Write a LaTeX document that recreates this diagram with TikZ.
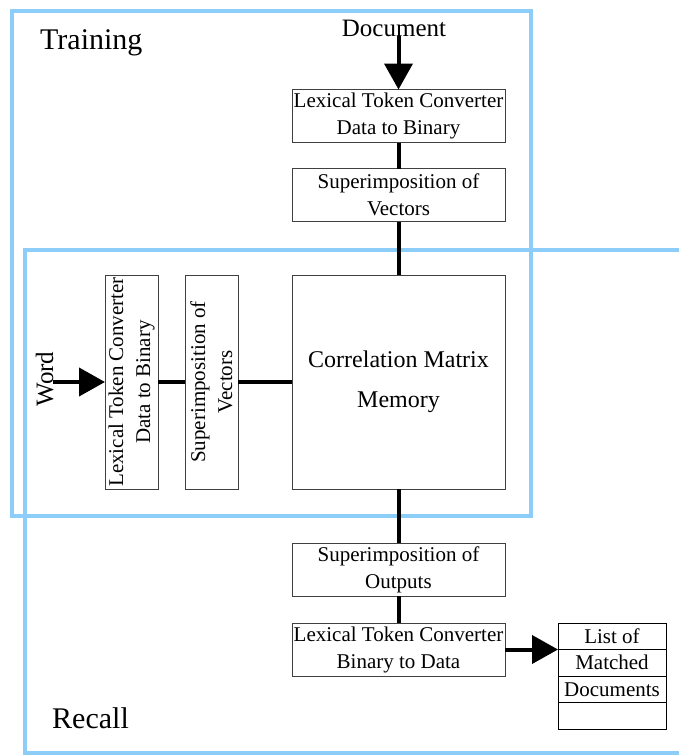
\documentclass[tikz,border=0pt]{standalone}
\usepackage{fontspec}
\setmainfont{Liberation Serif}
\usetikzlibrary{positioning,arrows.meta}
\definecolor{frameblue}{RGB}{140,205,250}

\begin{document}
\begin{tikzpicture}[x=1pt, y=-1pt,
  box/.style = {draw=black!75, line width=0.8pt, inner sep=0pt, outer sep=0pt,
    minimum width=213pt, minimum height=53pt, align=center,
    font=\fontsize{21}{27}\selectfont},
  vbox/.style = {box, rotate=90, minimum width=214pt, minimum height=53pt},
  cell/.style = {draw=black, line width=0.8pt, inner sep=0pt, outer sep=0pt,
    minimum width=108pt, minimum height=26.5pt,
    font=\fontsize{21}{25}\selectfont},
  frame/.style = {draw=frameblue, line width=4pt},
  link/.style = {line width=4pt},
  flow/.style = {link, -{Triangle[length=26pt,width=28pt]}},
  title/.style = {font=\fontsize{30}{36}\selectfont, anchor=base west, inner sep=0pt},
  label/.style = {font=\fontsize{25}{30}\selectfont, inner sep=0pt}]

  \useasboundingbox (0,0) rectangle (679,756);
  \clip (0,0) rectangle (679,756);

  % the two phases
  \draw[frame] (25,250) rectangle (700,753);
  \draw[frame] (12,11) rectangle (531,516);
  \node[title] (training) at (40,49) {Training};
  \node[title] (recall) at (52,728) {Recall};

  % training path
  \node[label, anchor=base] (doc) at (394,36) {Document};
  \node[box] (lexin) at (398.5,116) {Lexical Token Converter\\Data to Binary};
  \node[box, below=26pt of lexin] (superin) {Superimposition of\\Vectors};
  \node[box, minimum height=214pt, font=\fontsize{24}{40}\selectfont] (cmm)
    at (398.5,382) {Correlation Matrix\\Memory};

  % recall path
  \node[label, rotate=90, anchor=base] (word) at (53,379) {Word};
  \node[vbox] (lexword) at (131.5,382) {Lexical Token Converter\\Data to Binary};
  \node[vbox] (superword) at (211.5,382) {Superimposition of\\Vectors};
  \node[box, below=54pt of cmm] (superout) {Superimposition of\\Outputs};
  \node[box, below=27pt of superout] (lexout) {Lexical Token Converter\\Binary to Data};

  % matched list
  \node[cell] (list1) at (612,636.25) {List of};
  \node[cell, below=0pt of list1] (list2) {Matched};
  \node[cell, below=0pt of list2] (list3) {Documents};
  \node[cell, below=0pt of list3] (list4) {};

  % connectors
  \draw[flow] (doc.base -| lexin) -- (lexin.north);
  \draw[link] (lexin) -- (superin);
  \draw[link] (superin) -- (cmm);
  \draw[flow] (word.base |- lexword) -- (lexword.north);
  \draw[link] (lexword) -- (superword);
  \draw[link] (superword) -- (cmm);
  \draw[link] (cmm) -- (superout);
  \draw[link] (superout) -- (lexout);
  \draw[flow] (lexout.east) -- (list1.south west);
\end{tikzpicture}
\end{document}
